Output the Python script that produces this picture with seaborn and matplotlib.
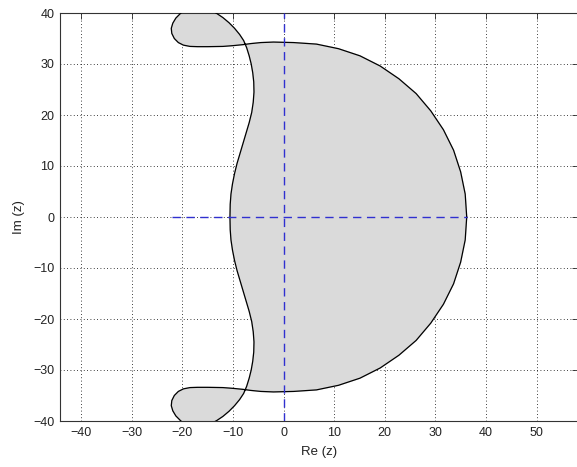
import numpy as np
import matplotlib
matplotlib.use("Agg")
import matplotlib.pyplot as plt
import seaborn as sns

# Boundary of the shaded region (upper half, from the right end)
re_upper = [36.2, 35.9, 35.0, 33.6, 31.6, 29.1, 26.2, 22.8, 19.1, 15.1, 10.85, 6.5, 2.0,
            0.0, -2.0, -4.5, -6.5, -8.0, -10.0, -12.0, -15.0, -17.0, -18.5, -19.8, -20.8,
            -21.6, -22.1, -22.2, -21.9, -21.3, -20.3, -19.0, -17.5, -16.0, -14.5, -13.2,
            -12.0, -10.8, -9.7, -8.7, -7.9, -7.3, -6.8, -6.4, -6.1, -5.9, -5.85, -6.0,
            -6.3, -6.8, -7.4, -8.0, -8.6, -9.2, -9.7, -10.1, -10.4, -10.55, -10.6]
im_upper = [0.0, 4.5, 8.85, 13.1, 17.1, 20.8, 24.2, 27.1, 29.6, 31.6, 33.0, 33.9, 34.2,
            34.25, 34.3, 34.2, 34.0, 33.8, 33.6, 33.45, 33.4, 33.4, 33.45, 33.7, 34.2,
            35.0, 36.0, 37.0, 38.0, 39.0, 40.0, 40.8, 41.2, 41.1, 40.6, 39.9,
            39.1, 38.1, 37.0, 35.8, 34.6, 33.2, 31.6, 30.0, 28.3, 26.5, 24.5, 22.5,
            20.5, 18.5, 16.5, 14.5, 12.5, 10.5, 8.5, 6.5, 4.5, 2.5, 0.0]

# lower half, from the left end back to the right end
re_lower = [-10.6, -10.55, -10.4, -10.1, -9.7, -9.2, -8.6, -8.0, -7.4, -6.8, -6.3, -6.0,
            -5.85, -5.9, -6.1, -6.4, -6.8, -7.3, -7.9, -8.7, -9.7, -10.8, -12.0, -13.2,
            -14.5, -16.0, -17.5, -19.0, -20.3, -21.3, -21.9, -22.2, -22.1, -21.6, -20.8,
            -19.8, -18.5, -17.0, -15.0, -12.0, -10.0, -8.0, -6.5, -4.5, -2.0, 0.0, 2.0,
            6.5, 10.85, 15.1, 19.1, 22.8, 26.2, 29.1, 31.6, 33.6, 35.0, 35.9, 36.2]
im_lower = [0.0, -2.5, -4.5, -6.5, -8.5, -10.5, -12.5, -14.5, -16.5, -18.5, -20.5, -22.5,
            -24.5, -26.5, -28.3, -30.0, -31.6, -33.2, -34.6, -35.8, -37.0, -38.1, -39.1, -39.9,
            -40.6, -41.1, -41.2, -40.8, -40.0, -39.0, -38.0, -37.0, -36.0, -35.0, -34.2,
            -33.7, -33.45, -33.4, -33.4, -33.45, -33.6, -33.8, -34.0, -34.2, -34.3, -34.25, -34.2,
            -33.9, -33.0, -31.6, -29.6, -27.1, -24.2, -20.8, -17.1, -13.1, -8.85, -4.5, 0.0]

re_ticks = [-40, -30, -20, -10, 0, 10, 20, 30, 40, 50]
im_ticks = [-40, -30, -20, -10, 0, 10, 20, 30, 40]

# dashed axes lines
real_axis = [-22.0, 36.2]
imag_axis = [-40, 40]

re_all = re_upper + re_lower
im_all = im_upper + im_lower

sns.set_style("white")
plt.rcParams['font.family'] = ['Liberation Sans', 'DejaVu Sans']

fig = plt.figure(figsize=(5.77, 4.67), dpi=100)
ax = fig.add_axes([60 / 577, 46 / 467, 518 / 577, 408 / 467])

ax.fill(re_all, im_all, color="#dadada", zorder=1)
sns.lineplot(x=re_all, y=im_all, sort=False, estimator=None, color="black", lw=0.9, ax=ax, zorder=3)

ax.plot(real_axis, [0, 0], color="#3030d0", ls=(0, (6, 4)), lw=1.0, zorder=4)
ax.plot([0, 0], imag_axis, color="#3030d0", ls=(0, (6, 4)), lw=1.0, zorder=4)

ax.set_xlim(-44.2, 58.2)
ax.set_ylim(-40, 40)
ax.set_xticks(re_ticks)
ax.set_yticks(im_ticks)
ax.grid(True, color="black", ls=(0, (1, 3)), lw=0.6, zorder=0)
ax.set_axisbelow(True)
ax.tick_params(direction="in", length=4, width=0.6, labelsize=9, labelcolor="#222222",
               top=True, right=True, pad=4)
for s in ax.spines.values():
    s.set_color("#333333")
    s.set_linewidth(0.8)

ax.set_xlabel("Re (z)", fontsize=9.5, color="#222222", labelpad=5)
ax.set_ylabel("Im (z)", fontsize=9.5, color="#222222", labelpad=6)

plt.savefig("out.png", dpi=100)
